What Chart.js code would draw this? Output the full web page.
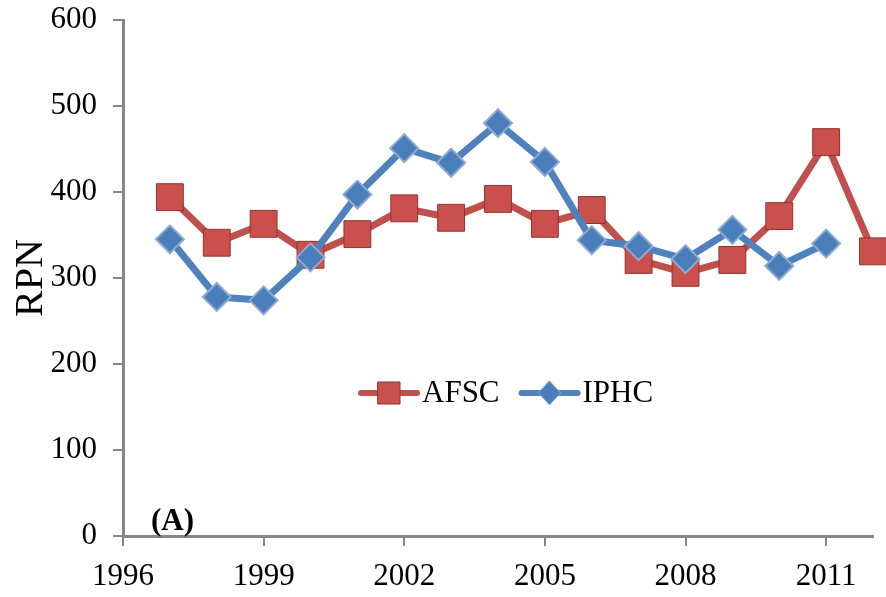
<!DOCTYPE html>
<html>
<head>
<meta charset="utf-8">
<script src="https://cdn.jsdelivr.net/npm/chart.js@4"></script>
<style>
  html, body { margin: 0; padding: 0; background: #fff; }
  #wrap { width: 886px; height: 597px; }
</style>
</head>
<body>
<div id="wrap"><canvas id="rpnChart" width="886" height="597"></canvas></div>
<script>
// RPN survey index, AFSC vs IPHC
const years = [1997, 1998, 1999, 2000, 2001, 2002, 2003, 2004, 2005, 2006, 2007, 2008, 2009, 2010, 2011, 2012];
const afsc = [394, 341, 363, 327, 351, 381, 370, 392, 363, 379, 321, 306, 321, 372, 458, 331];
const iphc = [345, 278, 274, 324, 397, 451, 434, 480, 435, 344, 337, 322, 356, 314, 340, null];
const xTicks = [1996, 1999, 2002, 2005, 2008, 2011];
const yTicks = [0, 100, 200, 300, 400, 500, 600];

const red = '#C0504D';
const blue = '#4A7EBB';
const axisGrey = '#868686';
const serif = "'Liberation Serif', 'Times New Roman', serif";

function toPoints(vals) {
    return years.map((y, i) => ({ x: y, y: vals[i] }));
}

// Legend drawn inside the plot, with line + marker like the original
const innerLegend = {
    id: 'innerLegend',
    afterDraw(chart) {
        const ctx = chart.ctx;
        const o = chart.options.plugins.innerLegend;
        let x = o.x;
        const y = o.y;
        ctx.save();
        ctx.font = o.fontSize + 'px ' + serif;
        ctx.textBaseline = 'middle';
        o.order.forEach(idx => {
            const ds = chart.data.datasets[idx];
            ctx.strokeStyle = ds.borderColor;
            ctx.lineWidth = 6;
            ctx.lineCap = 'round';
            ctx.beginPath();
            ctx.moveTo(x, y);
            ctx.lineTo(x + o.lineLen, y);
            ctx.stroke();
            const cx = x + o.lineLen / 2;
            ctx.fillStyle = ds.pointBackgroundColor;
            ctx.strokeStyle = ds.pointBorderColor;
            ctx.lineWidth = 1;
            ctx.beginPath();
            if (ds.pointStyle === 'rect') {
                ctx.rect(cx - 11, y - 11, 22, 22);
            } else {
                ctx.moveTo(cx, y - 12);
                ctx.lineTo(cx + 11, y);
                ctx.lineTo(cx, y + 12);
                ctx.lineTo(cx - 11, y);
                ctx.closePath();
            }
            ctx.fill();
            ctx.stroke();
            ctx.fillStyle = '#000';
            ctx.fillText(ds.label, x + o.lineLen + 5, y + 1);
            x += o.lineLen + 5 + ctx.measureText(ds.label).width + o.gap;
        });
        ctx.restore();
    }
};

// "(A)" panel tag
const panelTag = {
    id: 'panelTag',
    afterDraw(chart) {
        const ctx = chart.ctx;
        ctx.save();
        ctx.font = 'bold 31px ' + serif;
        ctx.fillStyle = '#000';
        ctx.textBaseline = 'alphabetic';
        ctx.fillText('(A)', 151, 530);
        ctx.restore();
    }
};

new Chart(document.getElementById('rpnChart'), {
    type: 'line',
    data: {
        datasets: [
            {
                label: 'IPHC',
                data: toPoints(iphc),
                borderColor: '#4F81BD',
                borderWidth: 7,
                pointStyle: 'rectRot',
                pointRadius: 14,
                pointHoverRadius: 14,
                pointBackgroundColor: blue,
                pointBorderColor: '#8EAAD3',
                pointBorderWidth: 2,
                spanGaps: false,
                clip: false
            },
            {
                label: 'AFSC',
                data: toPoints(afsc),
                borderColor: red,
                borderWidth: 7,
                pointStyle: 'rect',
                pointRadius: 19,
                pointHoverRadius: 19,
                pointBackgroundColor: '#C9504C',
                pointBorderColor: '#98302D',
                pointBorderWidth: 1,
                clip: false
            }
        ]
    },
    options: {
        responsive: false,
        animation: false,
        layout: { autoPadding: false, padding: { left: 3, top: 20, right: 13, bottom: 0 } },
        scales: {
            x: {
                type: 'linear',
                min: 1996,
                max: 2012,
                afterBuildTicks: s => { s.ticks = xTicks.map(v => ({ value: v })); },
                afterFit: s => { s.height = 61; s.paddingLeft = 0; s.paddingRight = 0; },
                border: { color: axisGrey, width: 3 },
                grid: { drawOnChartArea: false, color: axisGrey, lineWidth: 2, tickLength: 10 },
                ticks: {
                    color: '#000',
                    padding: 12,
                    maxRotation: 0,
                    font: { family: serif, size: 31 },
                    callback: v => String(v)
                }
            },
            y: {
                min: 0,
                max: 600,
                afterBuildTicks: s => { s.ticks = yTicks.map(v => ({ value: v })); },
                afterFit: s => { s.width = 120; s.paddingTop = 0; s.paddingBottom = 0; },
                border: { color: axisGrey, width: 3 },
                grid: { drawOnChartArea: false, color: axisGrey, lineWidth: 2, tickLength: 10 },
                title: {
                    display: true,
                    text: 'RPN',
                    color: '#000',
                    font: { family: serif, size: 40 },
                    padding: { top: 4, bottom: 0 }
                },
                ticks: {
                    color: '#000',
                    padding: 16,
                    font: { family: serif, size: 31 }
                }
            }
        },
        plugins: {
            legend: { display: false },
            tooltip: { enabled: false },
            innerLegend: { x: 361, y: 393, lineLen: 56, gap: 22, fontSize: 31, order: [1, 0] }
        }
    },
    plugins: [innerLegend, panelTag]
});
</script>
</body>
</html>
